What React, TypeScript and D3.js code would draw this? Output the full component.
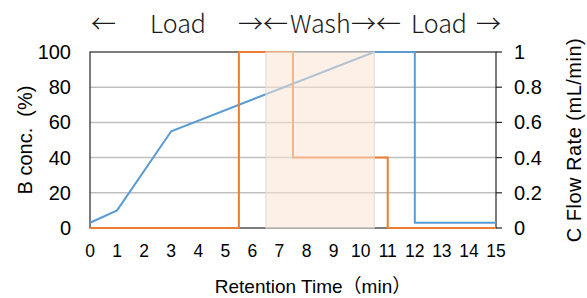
import * as d3 from "d3";

// B concentration (%) gradient, left axis
const bTime = [0, 1, 3, 10.5, 12, 12, 15];
const bConc = [3, 10, 55, 100, 100, 3, 3];

// C flow rate (mL/min), right axis
const flowTime = [0, 5.5, 5.5, 7.5, 7.5, 11, 11, 15];
const flowRate = [0, 0, 1, 1, 0.4, 0.4, 0, 0];

// wash window (min)
const washRange = [6.5, 10.5];

const xTicks = d3.range(0, 16);
const leftTicks = [0, 20, 40, 60, 80, 100];
const rightTicks = [0, 0.2, 0.4, 0.6, 0.8, 1];

const W = 587;
const H = 298;
const plot = { left: 90, right: 496, top: 52, bottom: 228 };

const FONT = "'Liberation Sans', Arial, sans-serif";
const TOP_FONT = "'Noto Sans CJK JP', 'Noto Sans', sans-serif";

export default function App() {
  const x = d3.scaleLinear().domain([0, 15]).range([plot.left, plot.right]);
  const yL = d3.scaleLinear().domain([0, 100]).range([plot.bottom, plot.top]);
  const yR = d3.scaleLinear().domain([0, 1]).range([plot.bottom, plot.top]);

  const bLine = d3
    .line<number>()
    .x((_, i) => x(bTime[i]))
    .y((d) => yL(d))(bConc);

  const flowLine = d3
    .line<number>()
    .x((_, i) => x(flowTime[i]))
    .y((d) => yR(d))(flowRate);

  // top annotation pieces: [text, left x]
  const topLabels: [string, number][] = [
    ["←", 91],
    ["Load", 150],
    ["→", 238],
    ["←", 263],
    ["Wash", 290],
    ["→", 351],
    ["←", 376],
    ["Load", 411],
    ["→", 476],
  ];

  return (
    <svg
      width={W}
      height={H}
      style={{ position: "fixed", left: 0, top: 0, background: "#fff" }}
    >
      {/* gridlines */}
      {leftTicks
        .filter((t) => t > 0 && t < 100)
        .map((t) => (
          <line
            key={t}
            x1={plot.left}
            x2={plot.right}
            y1={yL(t)}
            y2={yL(t)}
            stroke="#bfbfbf"
            strokeWidth={1.5}
          />
        ))}

      {/* plot border */}
      <rect
        x={plot.left}
        y={plot.top}
        width={plot.right - plot.left}
        height={plot.bottom - plot.top}
        fill="none"
        stroke="#262626"
        strokeWidth={1.2}
      />

      {/* right axis ticks */}
      {rightTicks.map((t) => (
        <line
          key={t}
          x1={plot.right}
          x2={plot.right + 6}
          y1={yR(t)}
          y2={yR(t)}
          stroke="#262626"
          strokeWidth={1.2}
        />
      ))}

      <path d={bLine ?? ""} fill="none" stroke="#5b9bd5" strokeWidth={2} />
      <path d={flowLine ?? ""} fill="none" stroke="#ed7d31" strokeWidth={2} />

      {/* wash band overlay */}
      <rect
        x={x(washRange[0])}
        y={plot.top}
        width={x(washRange[1]) - x(washRange[0])}
        height={plot.bottom - plot.top}
        fill="#f9e3d3"
        fillOpacity={0.55}
        stroke="#d9d9d9"
        strokeWidth={1}
      />

      {/* left tick labels */}
      {leftTicks.map((t) => (
        <text
          key={t}
          x={71}
          y={yL(t) + 7}
          textAnchor="end"
          fontFamily={FONT}
          fontSize={20}
          fill="#000"
        >
          {t}
        </text>
      ))}

      {/* right tick labels */}
      {rightTicks.map((t) => (
        <text
          key={t}
          x={514}
          y={yR(t) + 7}
          textAnchor="start"
          fontFamily={FONT}
          fontSize={20}
          fill="#000"
        >
          {d3.format("~g")(t)}
        </text>
      ))}

      {/* x tick labels */}
      {xTicks.map((t) => (
        <text
          key={t}
          x={x(t)}
          y={257}
          textAnchor="middle"
          fontFamily={FONT}
          fontSize={17.5}
          fill="#000"
        >
          {t}
        </text>
      ))}

      {/* axis titles */}
      <text
        x={(plot.left + plot.right) / 2 + 20}
        y={293}
        textAnchor="middle"
        fontFamily={FONT}
        fontSize={19}
        fill="#000"
      >
        Retention Time<tspan fontFamily={TOP_FONT}>（</tspan>min
        <tspan fontFamily={TOP_FONT}>）</tspan>
      </text>
      <text
        transform={`translate(32,140) rotate(-90)`}
        textAnchor="middle"
        fontFamily={FONT}
        fontSize={20}
        fill="#000"
        style={{ whiteSpace: "pre" }}
      >
        {"B conc.  (%)"}
      </text>
      <text
        transform={`translate(581,140) rotate(-90)`}
        textAnchor="middle"
        fontFamily={FONT}
        fontSize={20}
        letterSpacing={0.5}
        fill="#000"
      >
        C Flow Rate (mL/min)
      </text>

      {/* top phase labels */}
      {topLabels.map(([s, px], i) => (
        <text
          key={i}
          x={px}
          y={33}
          fontFamily={TOP_FONT}
          fontWeight={300}
          fontSize={25}
          fill="#1a1a1a"
        >
          {s}
        </text>
      ))}
    </svg>
  );
}
